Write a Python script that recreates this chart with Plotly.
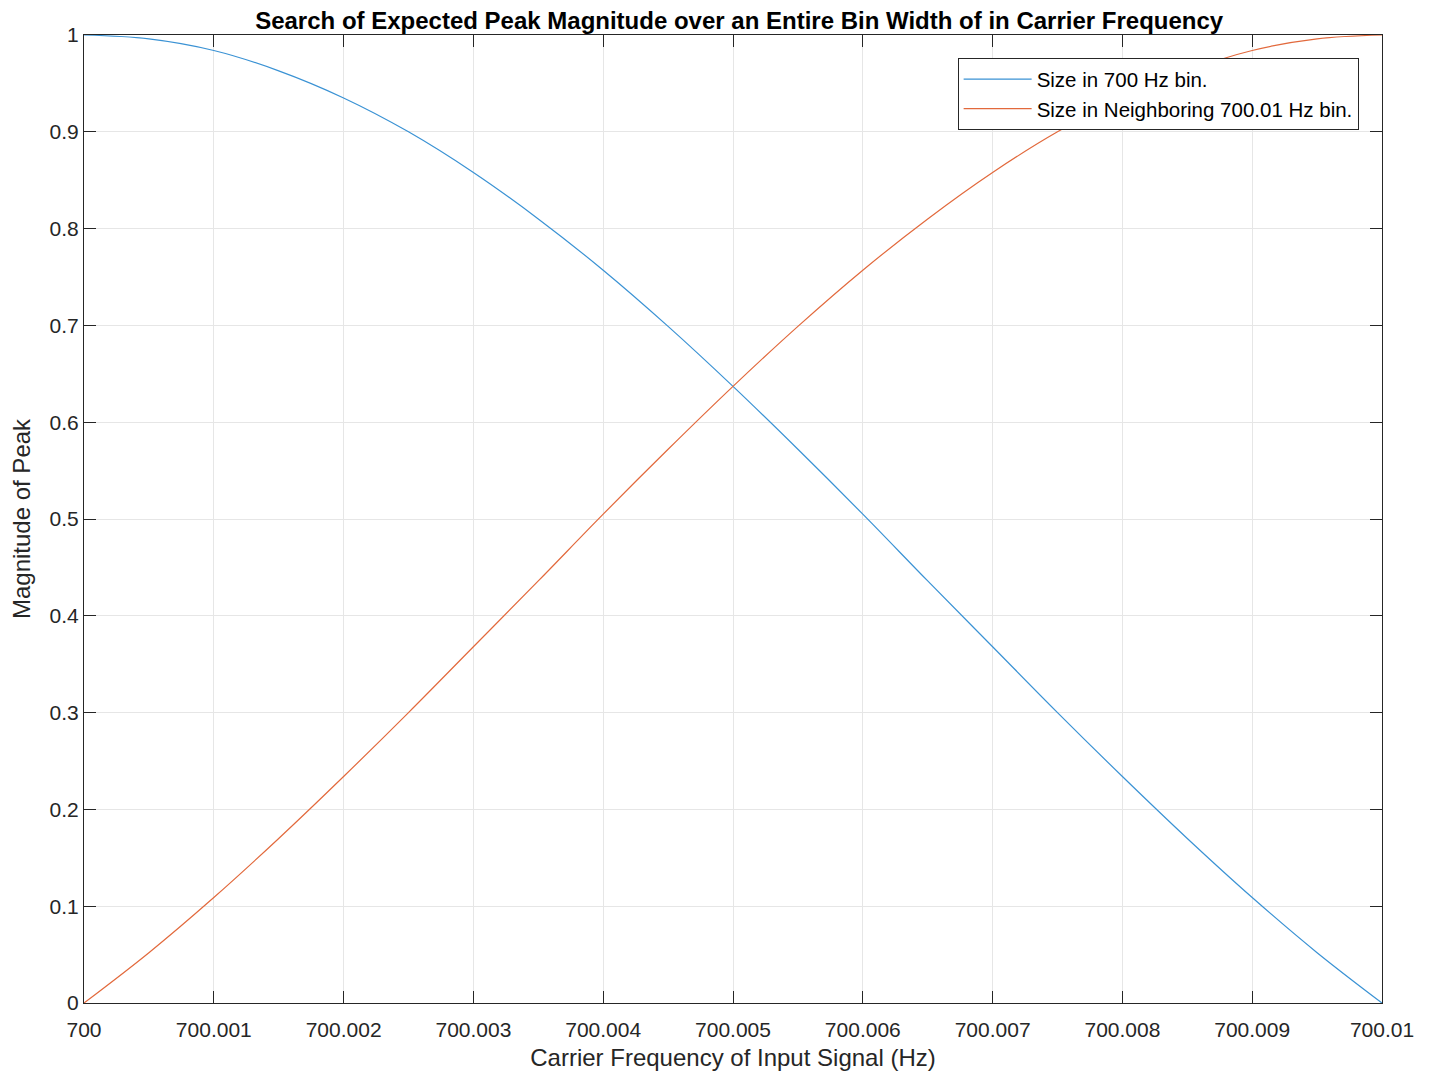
import plotly.graph_objects as go

# Carrier frequency offsets (Hz)
freq = [700.0, 700.0005, 700.001, 700.0015, 700.002, 700.0025, 700.003, 700.0035,
        700.004, 700.0045, 700.005, 700.0055, 700.006, 700.0065, 700.007, 700.0075,
        700.008, 700.0085, 700.009, 700.0095, 700.01]
size_700 = [1.000, 0.996, 0.984, 0.963, 0.935, 0.900, 0.858, 0.810, 0.757, 0.699,
            0.637, 0.572, 0.505, 0.436, 0.368, 0.300, 0.234, 0.170, 0.109, 0.052, 0.000]
size_70001 = [0.000, 0.052, 0.109, 0.170, 0.234, 0.300, 0.368, 0.436, 0.505, 0.572,
              0.637, 0.699, 0.757, 0.810, 0.858, 0.900, 0.935, 0.963, 0.984, 0.996, 1.000]

x_tickvals = [700.0, 700.001, 700.002, 700.003, 700.004, 700.005, 700.006, 700.007,
              700.008, 700.009, 700.01]
x_ticktext = ["700", "700.001", "700.002", "700.003", "700.004", "700.005", "700.006",
              "700.007", "700.008", "700.009", "700.01"]
y_tickvals = [0, 0.1, 0.2, 0.3, 0.4, 0.5, 0.6, 0.7, 0.8, 0.9, 1]
y_ticktext = ["0", "0.1", "0.2", "0.3", "0.4", "0.5", "0.6", "0.7", "0.8", "0.9", "1"]

font = "Liberation Sans, Arial, Helvetica, sans-serif"

fig = go.Figure()
fig.add_trace(go.Scatter(x=freq, y=size_700, mode="lines", line_shape="spline",
                         name="Size in 700 Hz bin.",
                         line=dict(color="#3a92d4", width=1.2)))
fig.add_trace(go.Scatter(x=freq, y=size_70001, mode="lines", line_shape="spline",
                         name="Size in Neighboring 700.01 Hz bin.",
                         line=dict(color="#e2693c", width=1.2)))

axis_common = dict(showline=True, linecolor="#262626", linewidth=1, mirror="allticks",
                   ticks="inside", ticklen=12, tickcolor="#262626",
                   showgrid=True, gridcolor="#e6e6e6", gridwidth=1, zeroline=False,
                   tickfont=dict(family=font, size=21, color="#262626"))

fig.update_layout(
    width=1445, height=1082,
    paper_bgcolor="white", plot_bgcolor="white",
    margin=dict(l=76, r=71, t=27, b=87),
    title=dict(text="<b>Search of Expected Peak Magnitude over an Entire Bin Width of in Carrier Frequency</b>",
               x=0.506, xanchor="center", y=0.9885, yanchor="middle",
               font=dict(family=font, size=24, color="black")),
    xaxis=dict(range=[700.0, 700.01], tickvals=x_tickvals, ticktext=x_ticktext,
               ticklabelstandoff=8,
               title=dict(text="Carrier Frequency of Input Signal (Hz)", standoff=8,
                          font=dict(family=font, size=24, color="#262626")),
               **axis_common),
    yaxis=dict(range=[0, 1], tickvals=y_tickvals, ticktext=y_ticktext,
               title=dict(text="Magnitude of Peak", standoff=12,
                          font=dict(family=font, size=24, color="#262626")),
               **axis_common),
    showlegend=True,
    legend=dict(x=0.982, xanchor="right", y=0.976, yanchor="top",
                bgcolor="white", bordercolor="#262626", borderwidth=1,
                font=dict(family=font, size=20.5, color="black"),
                itemwidth=68, tracegroupgap=0),
)

fig.write_html("out.html")
